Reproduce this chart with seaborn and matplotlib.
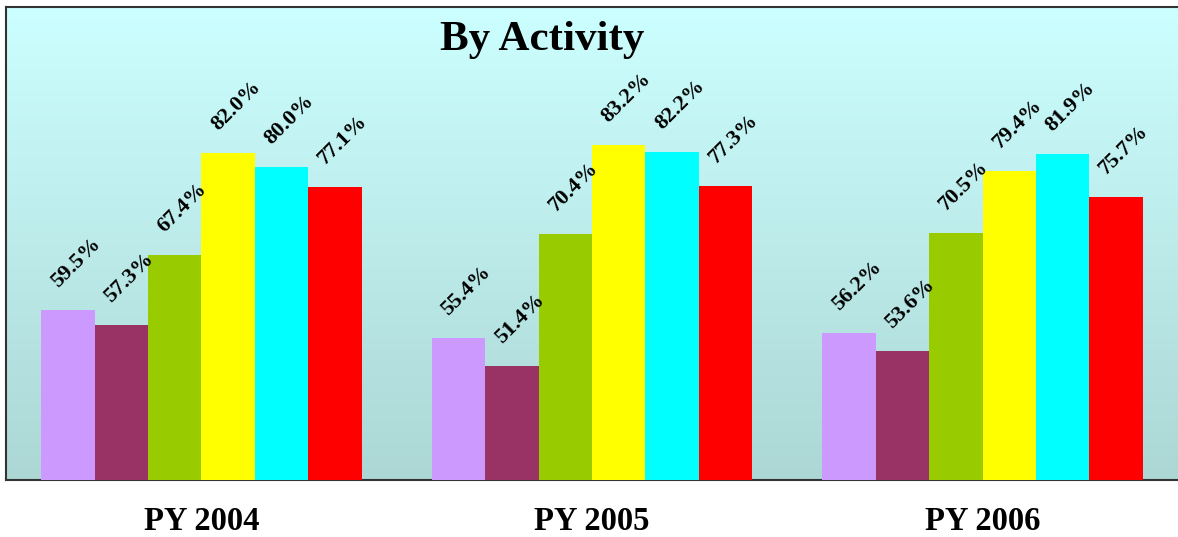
import numpy as np
import pandas as pd
import seaborn as sns
import matplotlib.pyplot as plt

years = ["PY 2004", "PY 2005", "PY 2006"]
activities = ["Activity 1", "Activity 2", "Activity 3", "Activity 4", "Activity 5", "Activity 6"]
py2004 = [59.5, 57.3, 67.4, 82.0, 80.0, 77.1]
py2005 = [55.4, 51.4, 70.4, 83.2, 82.2, 77.3]
py2006 = [56.2, 53.6, 70.5, 79.4, 81.9, 75.7]
colors = ["#CC99FF", "#993366", "#99CC00", "#FFFF00", "#00FFFF", "#FF0000"]

rows = []
for yr, vals in zip(years, [py2004, py2005, py2006]):
    for act, v in zip(activities, vals):
        rows.append({"Year": yr, "Activity": act, "Value": v})
df = pd.DataFrame(rows)

sns.set_style("white")
plt.rcParams["font.family"] = ["Liberation Serif", "DejaVu Serif"]
plt.rcParams["text.color"] = "black"
plt.rcParams["xtick.color"] = "black"

fig = plt.figure(figsize=(11.78, 5.37), dpi=100)
ax = fig.add_axes([6 / 1178, 57 / 537, 1172 / 1178, 473 / 537])

sns.barplot(data=df, x="Year", y="Value", hue="Activity", palette=colors,
            width=0.82, saturation=1, legend=False, ax=ax, zorder=2,
            edgecolor="none", linewidth=0)

# gradient background
grad = np.linspace(0, 1, 256).reshape(-1, 1)
top = np.array([204, 255, 255]) / 255
bot = np.array([172, 215, 213]) / 255
img = top[None, None, :] * (1 - grad[:, :, None]) + bot[None, None, :] * grad[:, :, None]
ax.imshow(img, extent=[0, 1, 0, 1], transform=ax.transAxes, aspect="auto", zorder=0)

for cont in ax.containers:
    for bar in cont:
        h = bar.get_height()
        ax.annotate(f"{h:.1f}%", (bar.get_x() + bar.get_width() / 2, h),
                    xytext=(8, 47), textcoords="offset pixels",
                    ha="center", va="center", rotation=45, color="black",
                    fontsize=16, fontweight="bold", zorder=3)

ax.set_xlim(-0.5, 2.5)
ax.set_ylim(35, 103)
ax.set_yticks([])
ax.set_xlabel("")
ax.set_ylabel("")
ax.tick_params(axis="x", length=0, pad=19, labelsize=23.5, labelcolor="black")
for lab in ax.get_xticklabels():
    lab.set_fontweight("bold")
for s in ["left", "top", "bottom"]:
    ax.spines[s].set_color("#333333")
    ax.spines[s].set_linewidth(1.5)
    ax.spines[s].set_zorder(1)
ax.spines["right"].set_visible(False)

ax.text(0.4578, 0.909, "By Activity", transform=ax.transAxes, ha="center", va="baseline",
        fontsize=31, fontweight="bold", color="black", zorder=4)

fig.savefig("out.png", dpi=100)
